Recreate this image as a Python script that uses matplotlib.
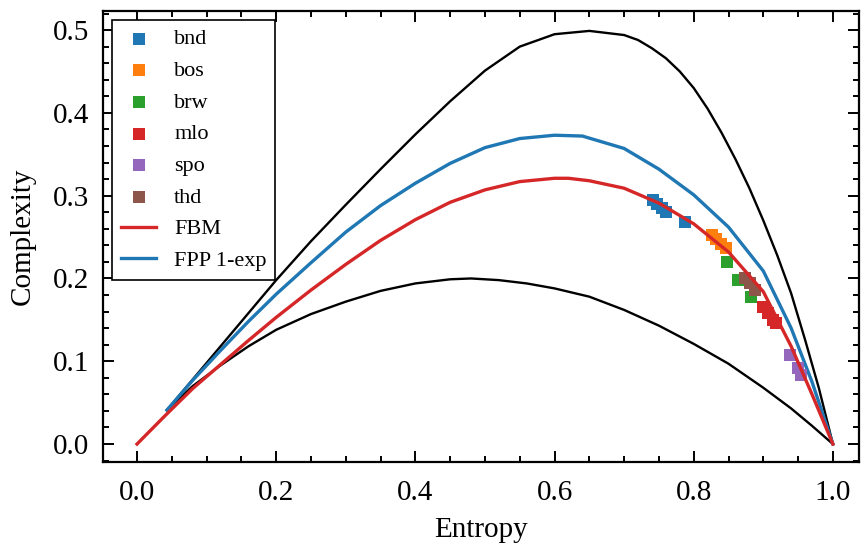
import numpy as np
import matplotlib
matplotlib.use("Agg")
from matplotlib import pyplot as plt
from matplotlib.ticker import MultipleLocator

plt.rcParams['font.family'] = ['Liberation Serif', 'DejaVu Serif']

# limit curves of the complexity-entropy plane
h_max = [0.043, 0.08, 0.12, 0.16, 0.20, 0.25, 0.30, 0.35, 0.40, 0.45, 0.50, 0.55,
         0.60, 0.65, 0.70, 0.72, 0.74, 0.76, 0.78, 0.80, 0.82, 0.84, 0.86, 0.88,
         0.90, 0.92, 0.94, 0.96, 0.98, 1.0]
c_max = [0.041, 0.078, 0.118, 0.158, 0.198, 0.245, 0.289, 0.332, 0.374, 0.414, 0.451,
         0.480, 0.495, 0.499, 0.494, 0.488, 0.478, 0.466, 0.450, 0.430, 0.405, 0.376,
         0.344, 0.309, 0.270, 0.228, 0.182, 0.126, 0.067, 0.0]

h_min = [0.043, 0.08, 0.12, 0.16, 0.20, 0.25, 0.30, 0.35, 0.40, 0.45, 0.48, 0.52,
         0.56, 0.60, 0.65, 0.70, 0.75, 0.80, 0.85, 0.90, 0.94, 0.97, 1.0]
c_min = [0.041, 0.070, 0.095, 0.118, 0.138, 0.157, 0.172, 0.185, 0.194, 0.199, 0.200,
         0.198, 0.194, 0.188, 0.178, 0.162, 0.143, 0.121, 0.097, 0.068, 0.043, 0.022,
         0.0]

# model curves
h_fbm = [0.0, 0.04, 0.08, 0.12, 0.16, 0.20, 0.25, 0.30, 0.35, 0.40, 0.45, 0.50,
         0.55, 0.60, 0.62, 0.65, 0.70, 0.75, 0.80, 0.85, 0.90, 0.94, 0.97, 1.0]
c_fbm = [0.0, 0.034, 0.067, 0.096, 0.125, 0.153, 0.186, 0.217, 0.246, 0.271, 0.292,
         0.307, 0.317, 0.321, 0.321, 0.318, 0.309, 0.291, 0.266, 0.232, 0.184, 0.118,
         0.060, 0.0]

h_fpp = [0.043, 0.08, 0.12, 0.16, 0.20, 0.25, 0.30, 0.35, 0.40, 0.45, 0.50, 0.55,
         0.60, 0.64, 0.70, 0.75, 0.80, 0.85, 0.90, 0.94, 0.97, 1.0]
c_fpp = [0.041, 0.077, 0.113, 0.148, 0.181, 0.219, 0.256, 0.288, 0.315, 0.339, 0.358,
         0.369, 0.373, 0.372, 0.357, 0.332, 0.301, 0.262, 0.209, 0.140, 0.075, 0.0]

# measured points per series
names = ['bnd', 'bos', 'brw', 'mlo', 'spo', 'thd']
h_pts = [[0.741, 0.747, 0.754, 0.760, 0.787],
         [0.826, 0.832, 0.839, 0.846],
         [0.848, 0.864, 0.883],
         [0.900, 0.907, 0.914, 0.918],
         [0.938, 0.950, 0.954],
         [0.874, 0.881, 0.888]]
c_pts = [[0.295, 0.290, 0.285, 0.280, 0.268],
         [0.252, 0.248, 0.242, 0.237],
         [0.220, 0.198, 0.178],
         [0.165, 0.158, 0.150, 0.146],
         [0.107, 0.092, 0.083],
         [0.200, 0.194, 0.186]]

fig = plt.figure(figsize=(8.61, 5.46), dpi=100)
ax = fig.add_axes([0.1196, 0.1538, 0.878, 0.826])

ax.plot(h_max, c_max, color='k', lw=1.7)
ax.plot(h_min, c_min, color='k', lw=1.7)
for i, nm in enumerate(names):
    ax.scatter(h_pts[i], c_pts[i], marker='s', s=64, color='C%d' % i,
               label=nm, zorder=3, linewidths=0)
ax.plot(h_fbm, c_fbm, color='C3', lw=2.4, label='FBM', zorder=4)
ax.plot(h_fpp, c_fpp, color='C0', lw=2.4, label='FPP 1-exp', zorder=2)

ax.set_xlim(-0.0489, 1.0374)
ax.set_ylim(-0.0217, 0.523)
ax.xaxis.set_major_locator(MultipleLocator(0.2))
ax.xaxis.set_minor_locator(MultipleLocator(0.05))
ax.yaxis.set_major_locator(MultipleLocator(0.1))
ax.yaxis.set_minor_locator(MultipleLocator(0.02))
ax.tick_params(which='both', direction='in', top=True, right=True, width=1.4,
               labelsize=21)
ax.tick_params(which='major', length=8)
ax.tick_params(which='minor', length=4)
ax.tick_params(axis='x', pad=13)
ax.tick_params(axis='y', pad=10)
for sp in ax.spines.values():
    sp.set_linewidth(1.6)

ax.set_xlabel('Entropy', fontsize=21, labelpad=8)
ax.set_ylabel('Complexity', fontsize=21, labelpad=12)

leg = ax.legend(loc='upper left', fontsize=16, fancybox=False, edgecolor='k',
                framealpha=1, labelspacing=0.5, handlelength=1.6,
                borderaxespad=0.4, scatterpoints=1)
leg.get_frame().set_linewidth(1.2)

fig.savefig('out.png', dpi=100)
